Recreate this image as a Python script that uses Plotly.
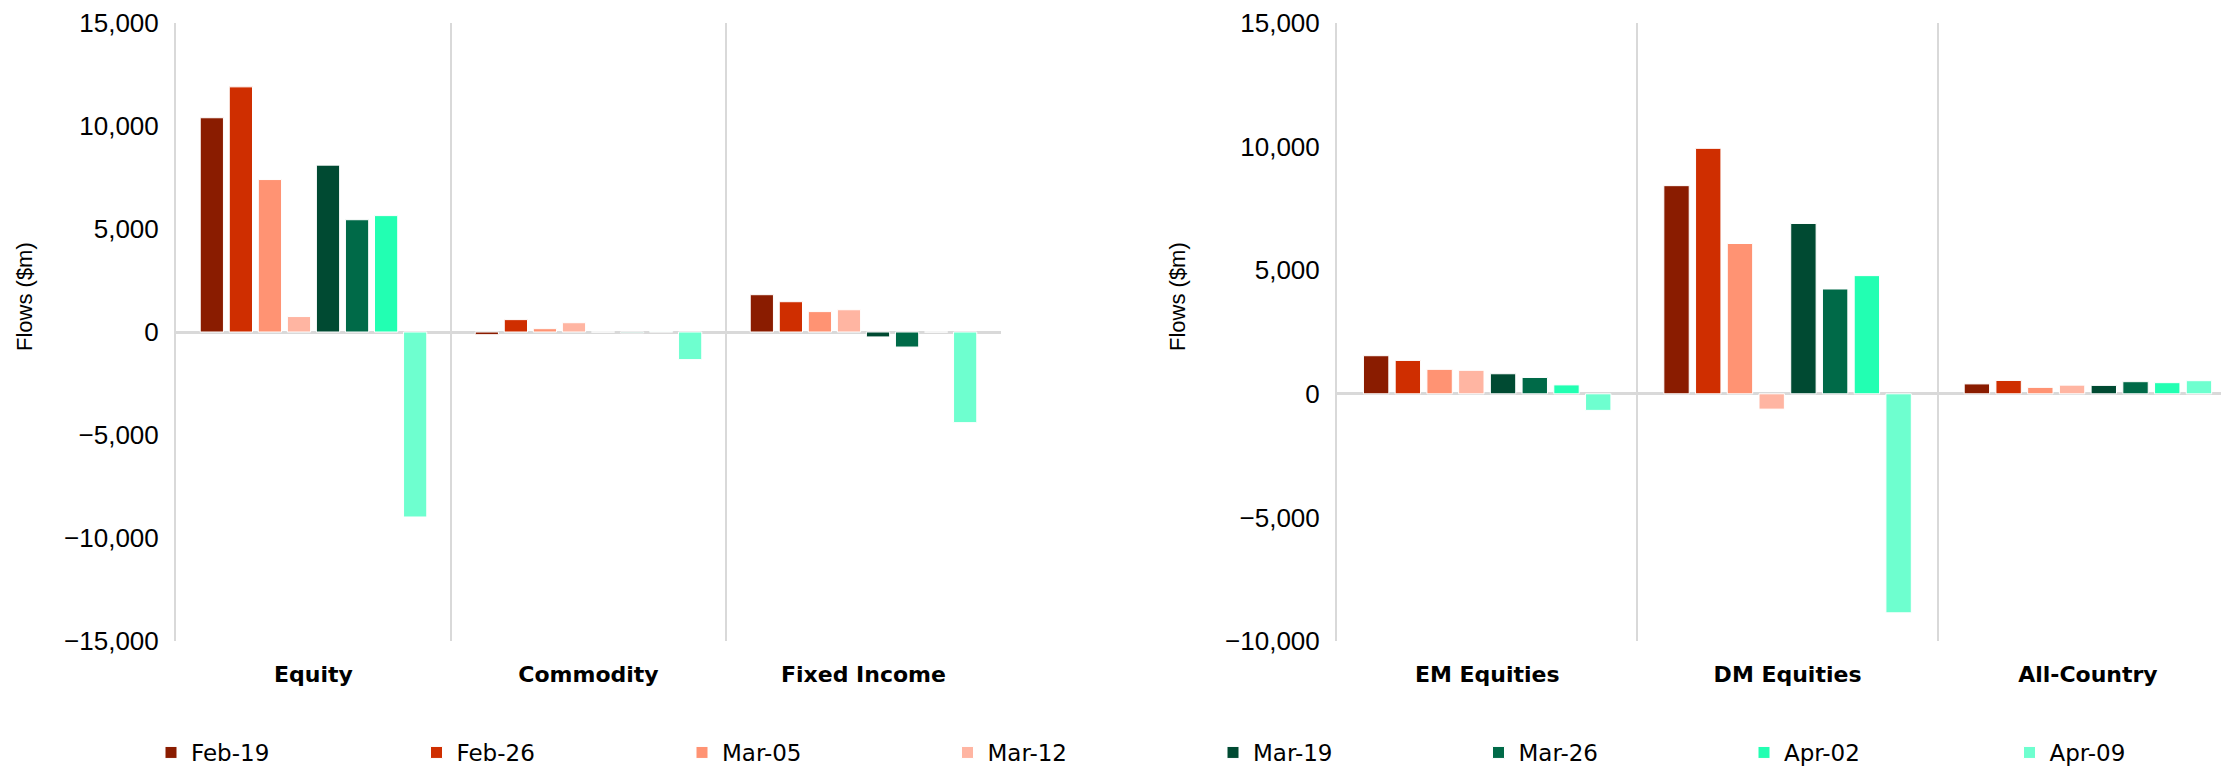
"""Weekly ETF flows by asset class and by region, two grouped-bar panels."""

import plotly.graph_objects as go

# ---- data -------------------------------------------------------------
weeks = ["Feb-19", "Feb-26", "Mar-05", "Mar-12", "Mar-19", "Mar-26", "Apr-02", "Apr-09"]
week_colors = ["#8A1C00", "#CF2E00", "#FF9373", "#FFB5A2",
               "#004A32", "#006A48", "#22FFB2", "#6EFFCF"]

asset_classes = ["Equity", "Commodity", "Fixed Income"]
regions = ["EM Equities", "DM Equities", "All-Country"]

# flows in $m, one list per week, ordered as asset_classes
asset_feb19 = [10400, -130, 1810]
asset_feb26 = [11900, 600, 1470]
asset_mar05 = [7400, 160, 990]
asset_mar12 = [750, 450, 1080]
asset_mar19 = [8100, 0, -240]
asset_mar26 = [5450, -40, -730]
asset_apr02 = [5650, 20, 0]
asset_apr09 = [-8980, -1340, -4400]

# flows in $m, one list per week, ordered as regions
region_feb19 = [1540, 8420, 400]
region_feb26 = [1350, 9930, 540]
region_mar05 = [990, 6080, 260]
region_mar12 = [950, -620, 350]
region_mar19 = [810, 6890, 340]
region_mar26 = [660, 4240, 490]
region_apr02 = [360, 4780, 450]
region_apr09 = [-670, -8860, 530]

left_ticks = [-15000, -10000, -5000, 0, 5000, 10000, 15000]
right_ticks = [-10000, -5000, 0, 5000, 10000, 15000]

asset_series = [asset_feb19, asset_feb26, asset_mar05, asset_mar12,
                asset_mar19, asset_mar26, asset_apr02, asset_apr09]
region_series = [region_feb19, region_feb26, region_mar05, region_mar12,
                 region_mar19, region_mar26, region_apr02, region_apr09]

# ---- figure -----------------------------------------------------------
W, H = 2221, 766
PLOT_TOP, PLOT_BOTTOM = 23, 641
TICK_FONT = {"family": "Liberation Sans, Arial, sans-serif", "size": 26, "color": "#000"}
CAT_FONT = {"family": "DejaVu Sans, sans-serif", "size": 22, "color": "#000", "weight": "bold"}
LEGEND_FONT = {"family": "DejaVu Sans, sans-serif", "size": 23, "color": "#000"}
GRID = "#D9D9D9"


def paper_y(px):
    return (PLOT_BOTTOM - px) / (PLOT_BOTTOM - PLOT_TOP)


fig = go.Figure()
legends = {}
for i, (name, color, left_vals, right_vals) in enumerate(
        zip(weeks, week_colors, asset_series, region_series)):
    legend_id = "legend" if i == 0 else f"legend{i + 1}"
    common = dict(name=name, legendgroup=name,
                  marker={"color": color, "line": {"color": "white", "width": 1}})
    fig.add_trace(go.Bar(x=asset_classes, y=left_vals, xaxis="x", yaxis="y",
                         legend=legend_id, **common))
    fig.add_trace(go.Bar(x=regions, y=right_vals, xaxis="x2", yaxis="y2",
                         showlegend=False, **common))
    # one legend box per week so the entries sit on an even 265px pitch
    legends[legend_id] = dict(
        orientation="h",
        x=(171 + i * 265.5 - 20) / W,
        xanchor="left",
        y=paper_y(731),
        yanchor="top",
        font=LEGEND_FONT,
        bgcolor="rgba(0,0,0,0)",
    )

cat_axis = dict(
    type="category",
    tickson="boundaries",
    showgrid=True,
    gridcolor=GRID,
    gridwidth=2,
    ticks="",
    tickfont=CAT_FONT,
    ticklabelstandoff=18,
    zeroline=False,
    fixedrange=True,
)
val_axis = dict(
    tickformat=",",
    tickfont=TICK_FONT,
    ticklabelstandoff=10,
    showgrid=False,
    zeroline=True,
    zerolinecolor=GRID,
    zerolinewidth=3,
    showline=True,
    linecolor=GRID,
    linewidth=2,
    ticks="",
)

fig.update_layout(
    width=W,
    height=H,
    margin={"l": 0, "r": 0, "t": PLOT_TOP, "b": H - PLOT_BOTTOM, "autoexpand": False},
    paper_bgcolor="white",
    plot_bgcolor="white",
    barmode="group",
    bargap=0.155,
    bargroupgap=0.2,
    xaxis=dict(cat_axis, domain=[176 / W, 1001 / W], range=[-0.5, 2.5], anchor="y"),
    xaxis2=dict(cat_axis, domain=[1337 / W, 1.0], range=[-0.5, 2.443], anchor="y2"),
    yaxis=dict(val_axis, range=[-15000, 15000], tickvals=left_ticks, anchor="x"),
    yaxis2=dict(val_axis, range=[-10000, 15000], tickvals=right_ticks, anchor="x2"),
    font={"family": "Liberation Sans, Arial, sans-serif", "color": "#000"},
    **legends,
)

for x_px in (25, 1178):
    fig.add_annotation(
        text="Flows ($m)",
        xref="paper",
        yref="paper",
        x=x_px / W,
        y=paper_y(297),
        xanchor="center",
        yanchor="middle",
        textangle=-90,
        showarrow=False,
        font={"family": "Liberation Sans, Arial, sans-serif", "size": 22, "color": "#000"},
    )

# drop the browser's default body margin so the figure fills the window exactly
fig.write_html(
    "out.html",
    config={"displayModeBar": False},
    post_script="document.body.style.margin = '0';",
)
